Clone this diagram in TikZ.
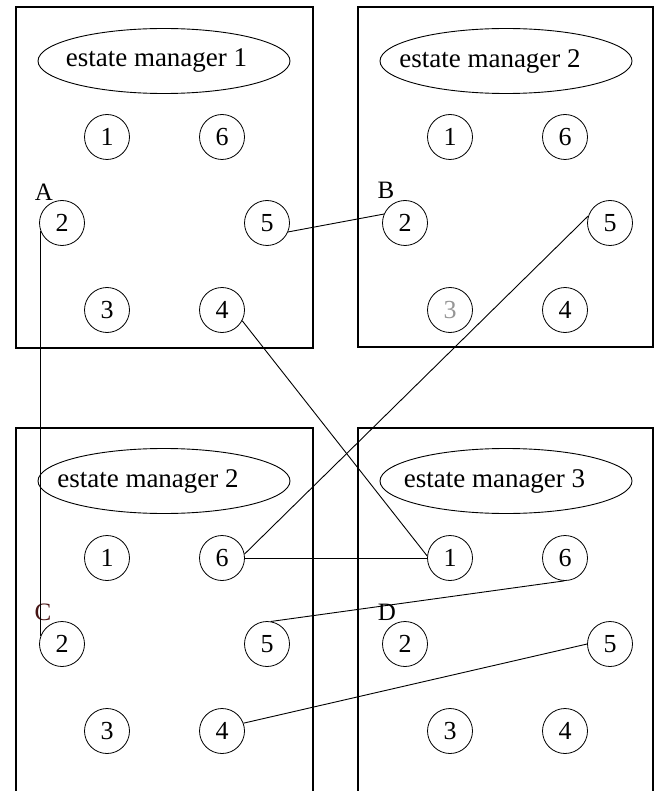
\documentclass[tikz,border=0pt]{standalone}
\usepackage{fontspec}
\setmainfont{Liberation Serif}
\usetikzlibrary{shapes.geometric}
\definecolor{labelred}{RGB}{70,20,20}
\definecolor{fadegray}{RGB}{150,150,150}
\begin{document}
\begin{tikzpicture}[x=1pt,y=-1pt,
  box/.style={line width=1.3pt},
  num/.style={circle,draw,line width=0.8pt,minimum size=45pt,inner sep=0pt,font=\fontsize{26}{26}\selectfont},
  mgr/.style={ellipse,draw,line width=0.9pt,minimum width=252pt,minimum height=65pt,inner sep=0pt,font=\fontsize{27}{27}\selectfont},
  lbl/.style={inner sep=0pt,font=\fontsize{25}{25}\selectfont},
  conn/.style={line width=0.9pt}]
\useasboundingbox (0,0) rectangle (661,791);
% boxes
\draw[box] (16,7) rectangle (313,348);
\draw[box] (358,7) rectangle (653,347);
\draw[box] (16,791) |- (313,428) -- (313,791);
\draw[box] (358,791) |- (653,428) -- (653,791);
% manager ellipses
\node[mgr] (etl) at (164,61) {\makebox[0pt]{estate manager 1\hspace*{15pt}}};
\node[mgr] (etr) at (506,61) {\makebox[0pt]{estate manager 2\hspace*{32pt}}};
\node[mgr] (ebl) at (164,481) {\makebox[0pt]{estate manager 2\hspace*{32pt}}};
\node[mgr] (ebr) at (506,481) {\makebox[0pt]{estate manager 3\hspace*{23pt}}};
% circles
\foreach \p/\ox/\oy in {tl/0/0, tr/343/0, bl/0/421, br/343/421}{
  \node[num] (\p1) at (107+\ox,137+\oy) {1};
  \node[num] (\p6) at (222+\ox,137+\oy) {6};
  \node[num] (\p2) at (62+\ox,223+\oy) {2};
  \node[num] (\p5) at (267+\ox,223+\oy) {5};
  \node[num] (\p4) at (222+\ox,310+\oy) {4};
}
\node[num] (tl3) at (107,310) {3};
\node[num,text=fadegray] (tr3) at (450,310) {3};
\node[num] (bl3) at (107,731) {3};
\node[num] (br3) at (450,731) {3};
% labels
\node[lbl] (la) at (44,192) {A};
\node[lbl] (lb) at (386,190) {B};
\node[lbl,text=labelred] (lc) at (43,612) {C};
\node[lbl] (ld) at (387,612) {D};
% connectors
\draw[conn] (tl5.-23) -- (tr2.157);
\draw[conn] (tl2.200) -- (tl2.200 |- bl2.160);
\draw[conn] (tl4.-28) -- (br1.175);
\draw[conn] (bl6.0) -- (br1.180);
\draw[conn] (bl6.10) -- (tr5.162);
\draw[conn] (br6.-92) -- (bl5.80);
\draw[conn] (br5.west) -- (bl4.20);
\end{tikzpicture}
\end{document}
